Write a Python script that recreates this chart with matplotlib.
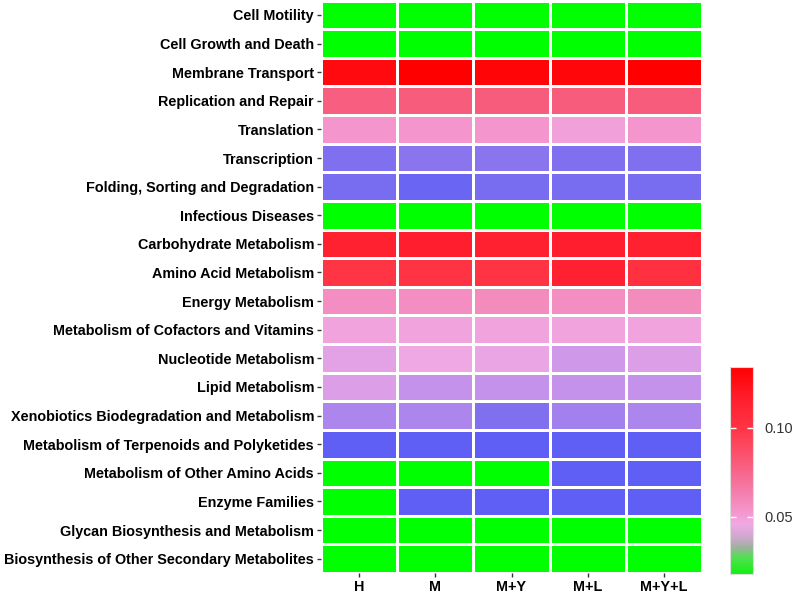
import numpy as np
import matplotlib
matplotlib.use('Agg')
import matplotlib.pyplot as plt
from matplotlib.colors import LinearSegmentedColormap, Normalize

plt.rcParams['font.family'] = ['Liberation Sans', 'DejaVu Sans']

pathways = ['Cell Motility', 'Cell Growth and Death', 'Membrane Transport',
            'Replication and Repair', 'Translation', 'Transcription',
            'Folding, Sorting and Degradation', 'Infectious Diseases',
            'Carbohydrate Metabolism', 'Amino Acid Metabolism', 'Energy Metabolism',
            'Metabolism of Cofactors and Vitamins', 'Nucleotide Metabolism',
            'Lipid Metabolism', 'Xenobiotics Biodegradation and Metabolism',
            'Metabolism of Terpenoids and Polyketides',
            'Metabolism of Other Amino Acids', 'Enzyme Families',
            'Glycan Biosynthesis and Metabolism',
            'Biosynthesis of Other Secondary Metabolites']
groups = ['H', 'M', 'M+Y', 'M+L', 'M+Y+L']

# relative abundance per group
H     = [0.019, 0.020, 0.128, 0.079, 0.053, 0.032, 0.031, 0.021, 0.115, 0.100,
         0.057, 0.048, 0.044, 0.043, 0.036, 0.027, 0.022, 0.023, 0.020, 0.018]
M     = [0.019, 0.020, 0.134, 0.080, 0.053, 0.033, 0.029, 0.021, 0.116, 0.101,
         0.057, 0.048, 0.046, 0.039, 0.036, 0.027, 0.022, 0.027, 0.020, 0.018]
M_Y   = [0.019, 0.020, 0.131, 0.080, 0.053, 0.033, 0.031, 0.021, 0.115, 0.101,
         0.058, 0.048, 0.045, 0.039, 0.032, 0.027, 0.022, 0.027, 0.020, 0.018]
M_L   = [0.019, 0.020, 0.130, 0.080, 0.049, 0.032, 0.031, 0.021, 0.116, 0.114,
         0.057, 0.048, 0.041, 0.039, 0.035, 0.027, 0.027, 0.027, 0.020, 0.018]
M_Y_L = [0.019, 0.020, 0.134, 0.080, 0.053, 0.032, 0.031, 0.021, 0.115, 0.102,
         0.058, 0.048, 0.043, 0.039, 0.036, 0.027, 0.027, 0.027, 0.020, 0.018]

vmin, vmax = 0.018, 0.134

def make_cmap(stops, name):
    pos = [(v - vmin) / (vmax - vmin) for v, c in stops]
    return LinearSegmentedColormap.from_list(name, list(zip(pos, [c for v, c in stops])), N=1024)

upper = [(0.046, '#F0A8E4'), (0.052, '#F498D0'), (0.065, '#F47CA8'),
         (0.080, '#F85C7C'), (0.100, '#FF3444'), (0.115, '#FF2030'),
         (0.134, '#FF0000')]
cmap = make_cmap([(0.018, '#00FF00'), (0.024, '#00FF00'), (0.0255, '#5C5CF6'),
                  (0.0275, '#6060F6'), (0.032, '#8070F0'), (0.037, '#B88CEC'),
                  (0.041, '#D098E8')] + upper, 'heat')
legend_cmap = make_cmap([(0.018, '#10F010'), (0.027, '#50E050'), (0.033, '#A0B0A0'),
                         (0.039, '#D0A8D0')] + upper, 'legend')
norm = Normalize(vmin, vmax)

data = np.array([H, M, M_Y, M_L, M_Y_L]).T

fig = plt.figure(figsize=(7.97, 5.96), dpi=100)
ax = fig.add_axes([0.4028, 0.0386, 0.478, 0.9604])
ax.pcolormesh(data, cmap=cmap, norm=norm, edgecolors='white', linewidth=1.0)
ax.set_xlim(0, len(groups))
ax.set_ylim(len(pathways), 0)
ax.set_xticks(np.arange(len(groups)) + 0.5)
ax.set_xticklabels(groups, fontsize=10.4, fontweight='bold')
ax.set_yticks(np.arange(len(pathways)) + 0.5)
ax.set_yticklabels(pathways, fontsize=10.4, fontweight='bold')
ax.tick_params(length=3, width=1, color='#333333', pad=2)
for s in ax.spines.values():
    s.set_visible(False)

cax = fig.add_axes([0.916, 0.0369, 0.0289, 0.347])
sm = plt.cm.ScalarMappable(norm=norm, cmap=legend_cmap)
cb = fig.colorbar(sm, cax=cax)
cb.set_ticks([0.05, 0.10])
cb.set_ticklabels(['0.05', '0.10'])
cb.outline.set_edgecolor('#dddddd')
cb.outline.set_linewidth(0.8)
cax.yaxis.set_ticks_position('both')
cax.tick_params(direction='in', length=4, width=1, color='white',
                labelsize=10.5, labelcolor='#333333', pad=8,
                labelleft=False, labelright=True)

fig.savefig('out.png', dpi=100)
